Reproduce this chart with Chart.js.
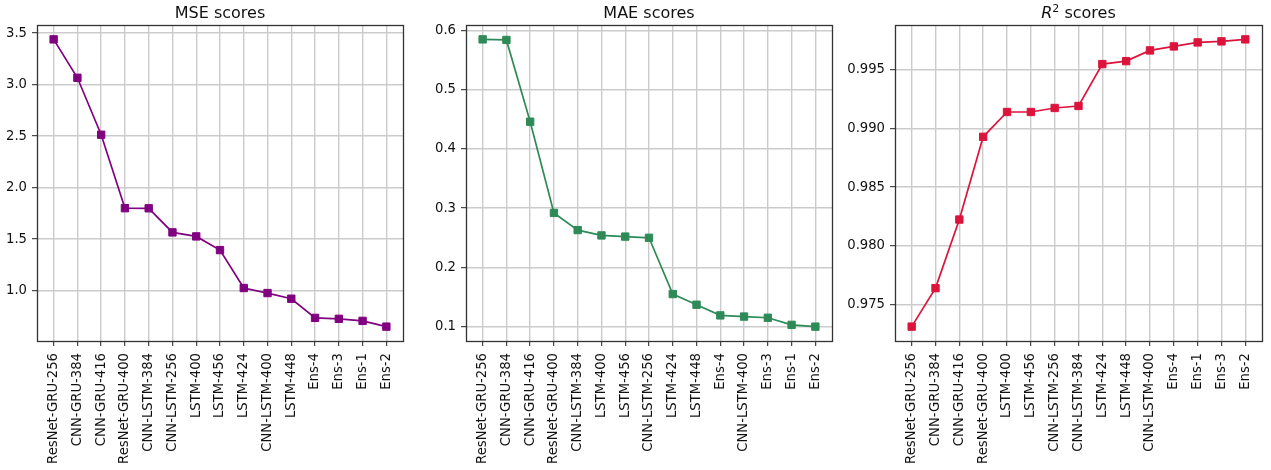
<!DOCTYPE html>
<html>
<head>
<meta charset="utf-8">
<script src="https://cdn.jsdelivr.net/npm/chart.js@4"></script>
<style>
  body { margin: 0; background: #fff; }
  .panel { position: absolute; top: 0; }
</style>
</head>
<body>
<div class="panel" style="left:0px"><canvas id="mseChart" width="420" height="470"></canvas></div>
<div class="panel" style="left:420px"><canvas id="maeChart" width="425" height="470"></canvas></div>
<div class="panel" style="left:845px"><canvas id="r2Chart" width="426" height="470"></canvas></div>
<script>
// categories per panel (each panel is sorted by its own score)
const mseModels = ['ResNet-GRU-256', 'CNN-GRU-384', 'CNN-GRU-416', 'ResNet-GRU-400', 'CNN-LSTM-384',
  'CNN-LSTM-256', 'LSTM-400', 'LSTM-456', 'LSTM-424', 'CNN-LSTM-400', 'LSTM-448', 'Ens-4', 'Ens-3', 'Ens-1', 'Ens-2'];
const maeModels = ['ResNet-GRU-256', 'CNN-GRU-384', 'CNN-GRU-416', 'ResNet-GRU-400', 'CNN-LSTM-384',
  'LSTM-400', 'LSTM-456', 'CNN-LSTM-256', 'LSTM-424', 'LSTM-448', 'Ens-4', 'CNN-LSTM-400', 'Ens-3', 'Ens-1', 'Ens-2'];
const r2Models = ['ResNet-GRU-256', 'CNN-GRU-384', 'CNN-GRU-416', 'ResNet-GRU-400', 'LSTM-400',
  'LSTM-456', 'CNN-LSTM-256', 'CNN-LSTM-384', 'LSTM-424', 'LSTM-448', 'CNN-LSTM-400', 'Ens-4', 'Ens-1', 'Ens-3', 'Ens-2'];

// score values
const mseValues = [3.44, 3.067, 2.514, 1.801, 1.80, 1.566, 1.527, 1.394, 1.026, 0.977, 0.922, 0.736, 0.727, 0.707, 0.651];
const maeValues = [0.585, 0.584, 0.446, 0.292, 0.263, 0.254, 0.252, 0.250, 0.155, 0.137, 0.119, 0.117, 0.115, 0.103, 0.100];
const r2Values = [0.97315, 0.97642, 0.98225, 0.98928, 0.99139, 0.99139, 0.99173, 0.99190,
  0.99546, 0.99571, 0.99662, 0.99696, 0.99730, 0.99739, 0.99756];

// y tick labels
const mseTicks = [1.0, 1.5, 2.0, 2.5, 3.0, 3.5];
const maeTicks = [0.1, 0.2, 0.3, 0.4, 0.5, 0.6];
const r2Ticks = [0.975, 0.980, 0.985, 0.990, 0.995];

const FONT = 'DejaVu Sans';

// draws the frame round the plot and the panel title
const framePlugin = {
  id: 'frame',
  afterDraw(chart, args, opts) {
    const { ctx, chartArea: a } = chart;
    ctx.save();
    ctx.strokeStyle = '#333';
    ctx.lineWidth = 1.3;
    ctx.strokeRect(Math.round(a.left) + 0.5, Math.round(a.top) + 0.5,
      Math.round(a.right - a.left), Math.round(a.bottom - a.top));

    // title made of segments so R^2 can be italic with superscript
    const parts = opts.parts || [];
    const fontFor = p => (p.italic ? 'italic ' : '') + (p.sup ? 11 : 16) + 'px "' + FONT + '"';
    let total = 0;
    parts.forEach(p => { ctx.font = fontFor(p); total += ctx.measureText(p.text).width; });
    let x = (a.left + a.right) / 2 - total / 2;
    ctx.fillStyle = '#111';
    ctx.textBaseline = 'alphabetic';
    parts.forEach(p => {
      ctx.font = fontFor(p);
      ctx.fillText(p.text, x, p.sup ? 12 : 18);
      x += ctx.measureText(p.text).width;
    });
    ctx.restore();
  }
};

function makeChart(id, models, values, yTicks, color, title, axisWidth, padRight, digits) {
  const points = values.map((v, i) => ({ x: i, y: v }));
  const span = Math.max(...values) - Math.min(...values);
  return new Chart(document.getElementById(id), {
    type: 'line',
    data: {
      datasets: [{
        data: points,
        borderColor: color,
        backgroundColor: color,
        borderWidth: 1.7,
        pointStyle: 'rect',
        pointRadius: 5.2,
        pointBorderWidth: 1,
        pointBorderColor: color,
        tension: 0,
      }],
    },
    options: {
      responsive: false,
      animation: false,
      devicePixelRatio: 1,
      layout: { padding: { top: 25, right: padRight, left: 0, bottom: 0 } },
      plugins: {
        legend: { display: false },
        tooltip: { enabled: false },
        frame: { parts: title },
      },
      scales: {
        x: {
          type: 'linear',
          min: -0.7,
          max: models.length - 1 + 0.7,
          afterBuildTicks: s => { s.ticks = models.map((m, i) => ({ value: i })); },
          afterFit: s => { s.height = 129; },
          grid: { color: '#cbcbcb', lineWidth: 1.4, tickColor: '#222', tickWidth: 1, tickLength: 5 },
          border: { display: false },
          ticks: {
            autoSkip: false,
            minRotation: 90,
            maxRotation: 90,
            padding: 7,
            color: '#111',
            font: { family: FONT, size: 13.2 },
            callback: v => models[v],
          },
        },
        y: {
          type: 'linear',
          min: Math.min(...values) - span * 0.05,
          max: Math.max(...values) + span * 0.05,
          afterBuildTicks: s => { s.ticks = yTicks.map(v => ({ value: v })); },
          afterFit: s => { s.width = axisWidth; },
          grid: { color: '#cbcbcb', lineWidth: 1.4, tickColor: '#222', tickWidth: 1, tickLength: 5 },
          border: { display: false },
          ticks: {
            padding: 5,
            color: '#111',
            font: { family: FONT, size: 13.2 },
            callback: v => v.toFixed(digits),
          },
        },
      },
    },
    plugins: [framePlugin],
  });
}

makeChart('mseChart', mseModels, mseValues, mseTicks, '#800080',
  [{ text: 'MSE scores' }], 37, 17, 1);
makeChart('maeChart', maeModels, maeValues, maeTicks, '#2e8b57',
  [{ text: 'MAE scores' }], 46, 13, 1);
makeChart('r2Chart', r2Models, r2Values, r2Ticks, '#dc143c',
  [{ text: 'R', italic: true }, { text: '2', sup: true }, { text: ' scores' }], 50, 9, 3);
</script>
</body>
</html>
